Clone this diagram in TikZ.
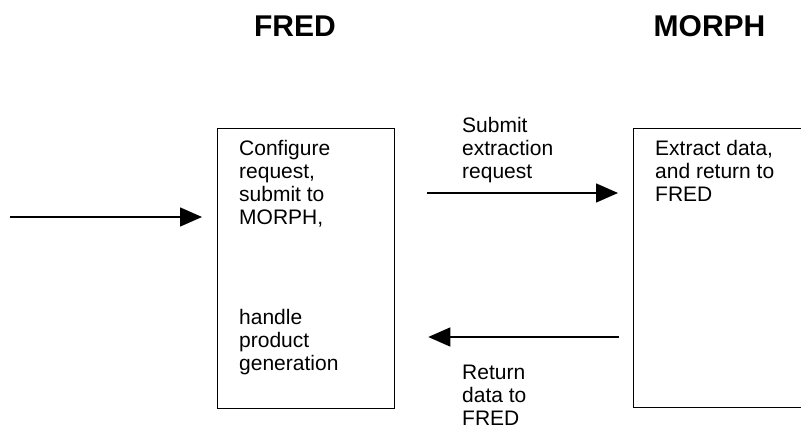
\documentclass[tikz,border=0pt]{standalone}
\usepackage{fontspec}
\setmainfont{Liberation Sans}
\usepackage{tikz}
\usetikzlibrary{arrows.meta,positioning,calc}

\begin{document}
\begin{tikzpicture}[
  x=1pt,y=-1pt,
  every node/.style={font=\fontsize{21}{23}\selectfont},
  title/.style={font=\fontsize{30}{34}\selectfont\bfseries,anchor=base,inner sep=0pt},
  box/.style={draw,line width=1.3pt,anchor=north west,inner sep=0pt},
  txt/.style={align=left,anchor=base west,inner sep=0pt},
  arr/.style={-{Triangle[length=22pt,width=19pt]},line width=1.6pt}
]
\clip (0,0) rectangle (801,428);
\node[title] (fredtitle) at (295,37) {FRED};
\node[title] (morphtitle) at (709.5,37) {MORPH};

\node[box,minimum width=177pt,minimum height=280pt] (fredbox) at (217,128) {};
\node[box,minimum width=220pt,minimum height=279pt] (morphbox) at (633,128) {};

% base anchor sits on the last line
\node[txt] (fredtop) at (239,224) {Configure\\request,\\submit to\\MORPH,};
\node[txt] (fredbot) at (239,370) {handle\\product\\generation};
\node[txt] (morphtxt) at (655,201) {Extract data,\\and return to\\FRED};

\node[txt] (submitlbl) at (462,178) {Submit\\extraction\\request};
\node[txt] (returnlbl) at (462,425.5) {Return\\data to\\FRED};

\coordinate (src) at (10,217);
\draw[arr,shorten >=15pt] (src) -- (fredbox.west |- src);
\draw[arr,shorten <=32pt,shorten >=15pt] (fredbox.east |- 0,193) -- (morphbox.west |- 0,193);
\draw[arr,shorten <=14pt,shorten >=33pt] (morphbox.west |- 0,337) -- (fredbox.east |- 0,337);
\end{tikzpicture}
\end{document}
